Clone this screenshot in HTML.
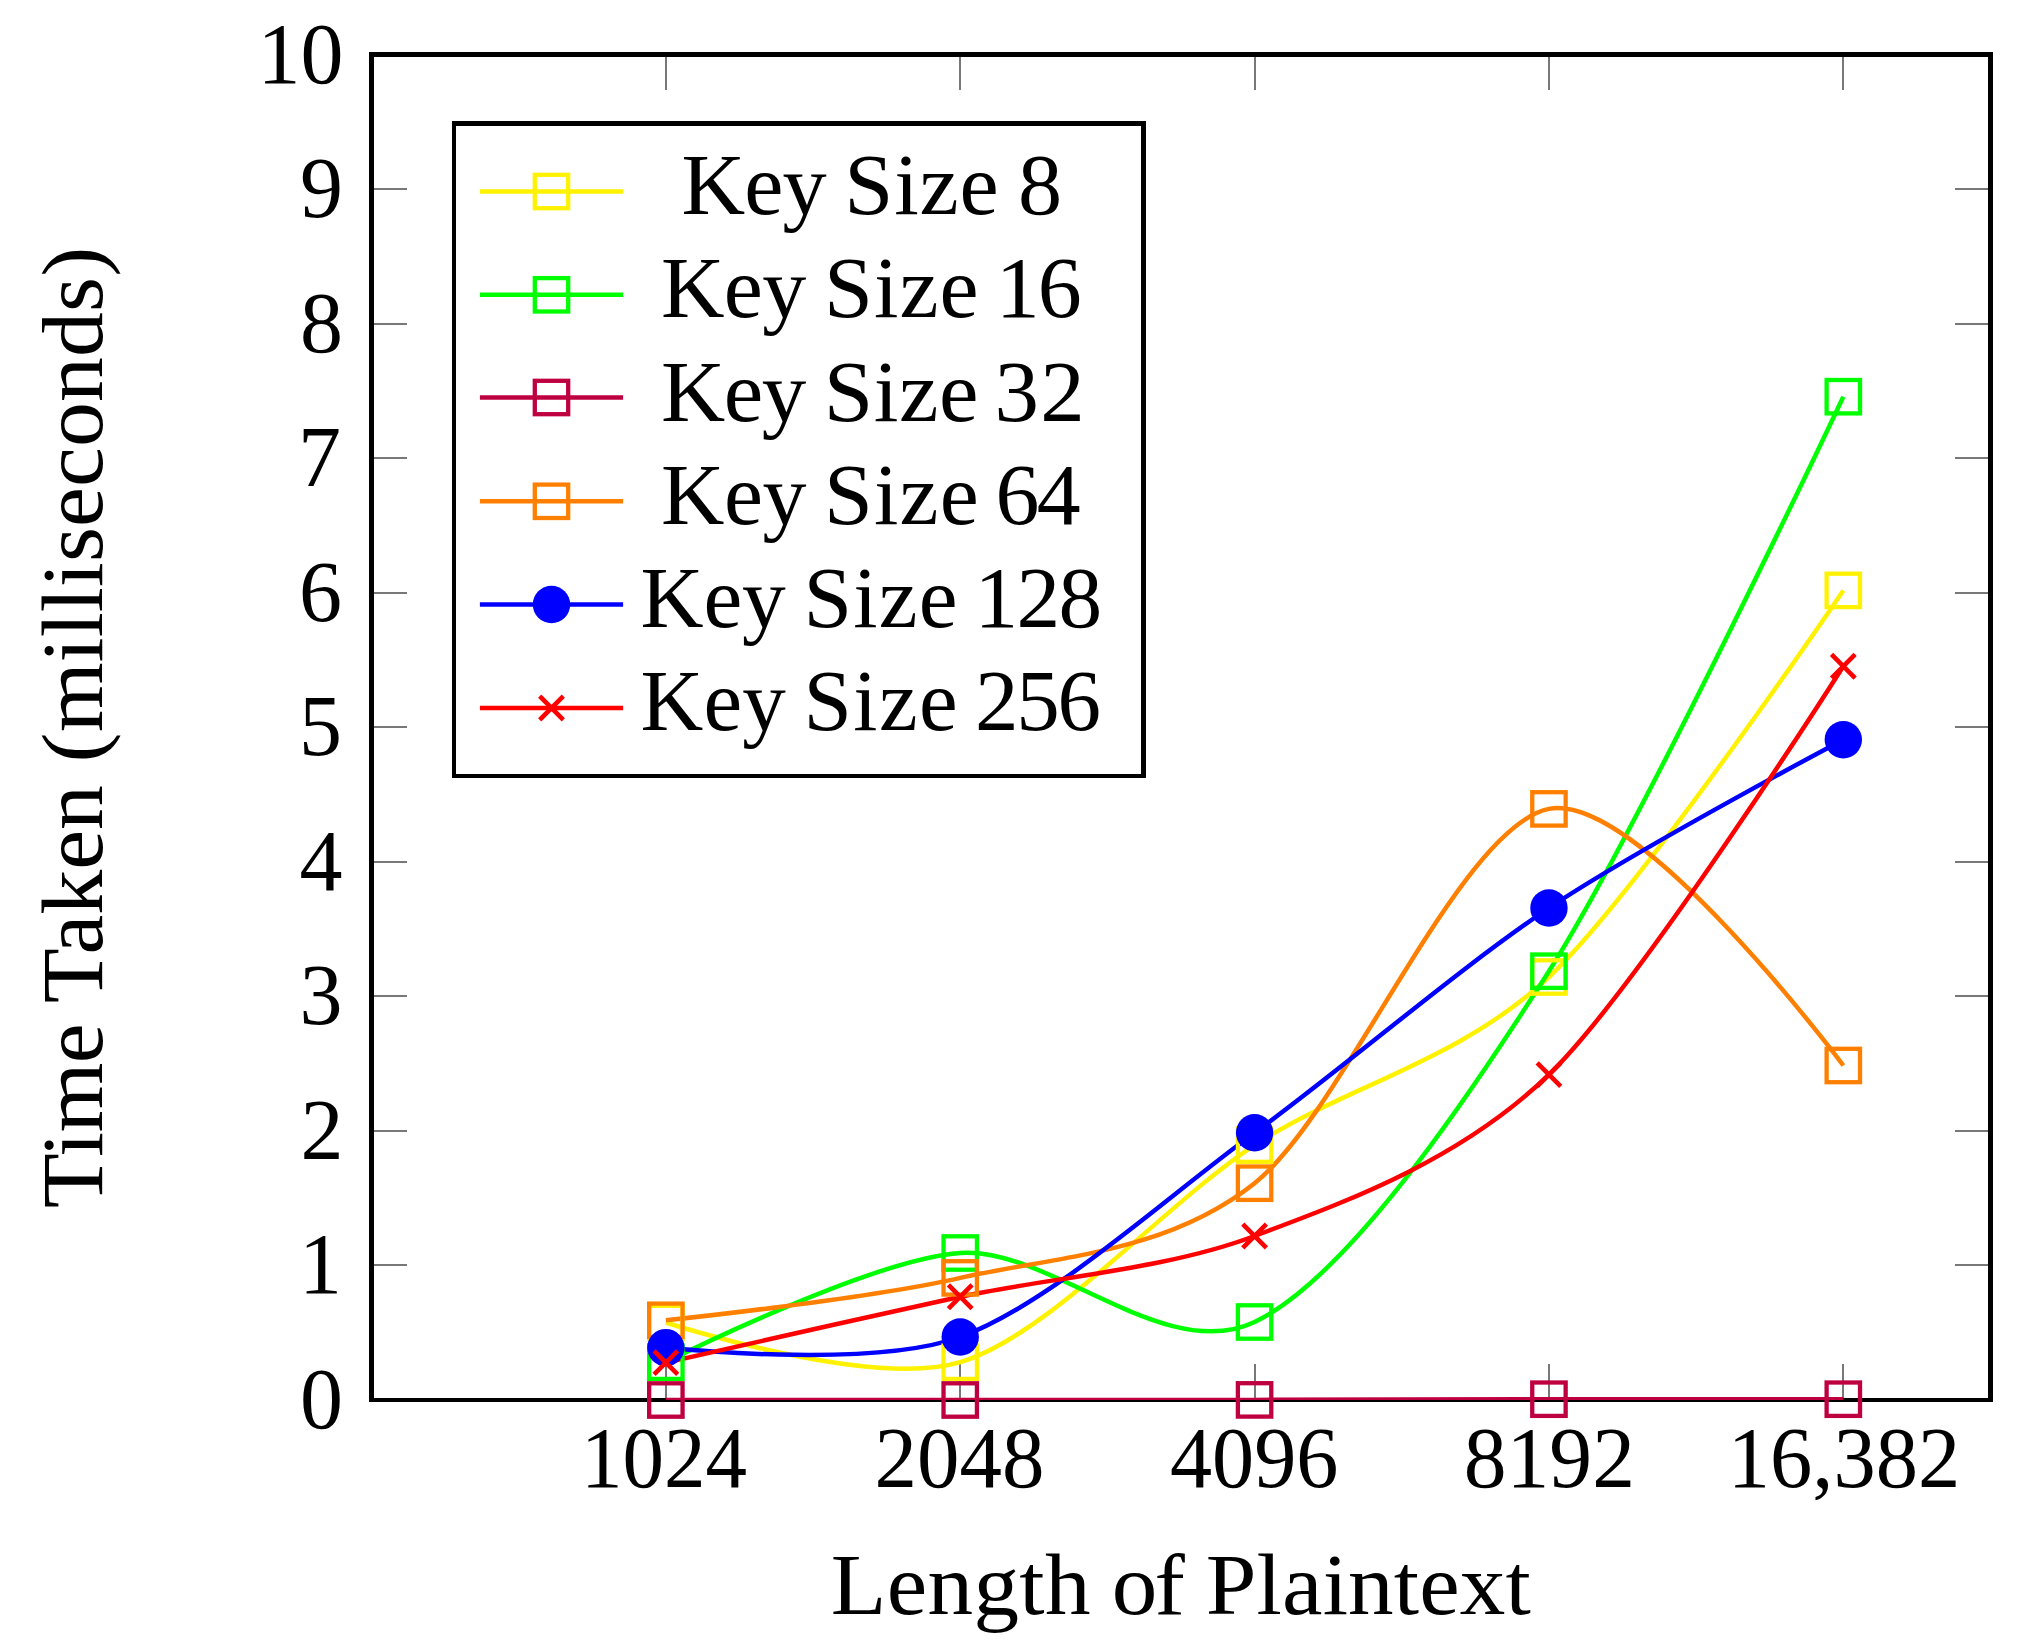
<!DOCTYPE html>
<html lang="en"><head><meta charset="utf-8"><title>Time Taken vs Length of Plaintext</title>
<style>html,body{margin:0;padding:0;background:#fff}body{width:2022px;height:1640px;overflow:hidden}svg{display:block}text{font-family:"Liberation Serif","DejaVu Serif",serif;font-size:86px;fill:#000}</style></head><body>
<svg width="2022" height="1640" viewBox="0 0 2022 1640">
<rect width="2022" height="1640" fill="#fff"/>
<g fill="#787878" shape-rendering="crispEdges">
<rect x="665" y="57" width="2" height="33"/><rect x="665" y="1364" width="2" height="34"/>
<rect x="959" y="57" width="2" height="33"/><rect x="959" y="1364" width="2" height="34"/>
<rect x="1254" y="57" width="2" height="33"/><rect x="1254" y="1364" width="2" height="34"/>
<rect x="1548" y="57" width="2" height="33"/><rect x="1548" y="1364" width="2" height="34"/>
<rect x="1842" y="57" width="2" height="33"/><rect x="1842" y="1364" width="2" height="34"/>
<rect x="374" y="1264" width="33" height="2"/><rect x="1955" y="1264" width="33" height="2"/>
<rect x="374" y="1130" width="33" height="2"/><rect x="1955" y="1130" width="33" height="2"/>
<rect x="374" y="995" width="33" height="2"/><rect x="1955" y="995" width="33" height="2"/>
<rect x="374" y="861" width="33" height="2"/><rect x="1955" y="861" width="33" height="2"/>
<rect x="374" y="726" width="33" height="2"/><rect x="1955" y="726" width="33" height="2"/>
<rect x="374" y="592" width="33" height="2"/><rect x="1955" y="592" width="33" height="2"/>
<rect x="374" y="457" width="33" height="2"/><rect x="1955" y="457" width="33" height="2"/>
<rect x="374" y="323" width="33" height="2"/><rect x="1955" y="323" width="33" height="2"/>
<rect x="374" y="188" width="33" height="2"/><rect x="1955" y="188" width="33" height="2"/>
</g>
<g fill="#000" shape-rendering="crispEdges"><rect x="369" y="52" width="5" height="1350"/><rect x="1988" y="52" width="5" height="1350"/><rect x="369" y="52" width="1624" height="5"/><rect x="369" y="1398" width="1624" height="4"/></g>
<clipPath id="ax"><rect x="371.5" y="54.5" width="1619.0" height="1345.5"/></clipPath>
<g clip-path="url(#ax)" fill="none" stroke-width="4.5">
<path d="M665.86,1322.50 C665.86,1322.50 870.37,1389.28 960.23,1362.20 C1050.08,1335.12 1164.74,1203.89 1254.59,1145.10 C1344.45,1086.31 1459.10,1061.66 1548.95,977.00 C1638.81,892.34 1843.32,590.40 1843.32,590.40" stroke="#fff200"/>
<path d="M665.86,1362.20 C665.86,1362.20 870.37,1259.14 960.23,1253.00 C1050.08,1246.86 1164.74,1365.01 1254.59,1322.00 C1344.45,1278.99 1459.10,1112.42 1548.95,971.20 C1638.81,829.98 1843.32,396.70 1843.32,396.70" stroke="#00ff00"/>
<path d="M665.86,1400.00 C665.86,1400.00 870.37,1400.02 960.23,1400.00 C1050.08,1399.98 1164.74,1400.02 1254.59,1399.90 C1344.45,1399.78 1459.10,1399.31 1548.95,1399.20 C1638.81,1399.09 1843.32,1399.20 1843.32,1399.20" stroke="#bf0040"/>
<path d="M665.86,1320.30 C665.86,1320.30 870.37,1298.82 960.23,1277.90 C1050.08,1256.98 1164.74,1254.78 1254.59,1183.20 C1344.45,1111.62 1459.10,826.86 1548.95,808.90 C1638.81,790.94 1843.32,1065.50 1843.32,1065.50" stroke="#ff8000"/>
<path d="M665.86,1347.60 C665.86,1347.60 870.37,1369.78 960.23,1337.00 C1050.08,1304.22 1164.74,1198.28 1254.59,1132.80 C1344.45,1067.32 1459.10,968.00 1548.95,908.00 C1638.81,848.00 1843.32,739.70 1843.32,739.70" stroke="#0000ff"/>
<path d="M665.86,1362.60 C665.86,1362.60 870.37,1316.12 960.23,1296.80 C1050.08,1277.48 1164.74,1269.91 1254.59,1236.00 C1344.45,1202.09 1459.10,1161.57 1548.95,1074.60 C1638.81,987.63 1843.32,666.20 1843.32,666.20" stroke="#ff0000"/>
</g>
<g>
<rect x="649.16" y="1305.80" width="33.40" height="33.40" fill="none" stroke="#fff200" stroke-width="4.3"/>
<rect x="943.53" y="1345.50" width="33.40" height="33.40" fill="none" stroke="#fff200" stroke-width="4.3"/>
<rect x="1237.89" y="1128.40" width="33.40" height="33.40" fill="none" stroke="#fff200" stroke-width="4.3"/>
<rect x="1532.25" y="960.30" width="33.40" height="33.40" fill="none" stroke="#fff200" stroke-width="4.3"/>
<rect x="1826.62" y="573.70" width="33.40" height="33.40" fill="none" stroke="#fff200" stroke-width="4.3"/>
<rect x="649.16" y="1345.50" width="33.40" height="33.40" fill="none" stroke="#00ff00" stroke-width="4.3"/>
<rect x="943.53" y="1236.30" width="33.40" height="33.40" fill="none" stroke="#00ff00" stroke-width="4.3"/>
<rect x="1237.89" y="1305.30" width="33.40" height="33.40" fill="none" stroke="#00ff00" stroke-width="4.3"/>
<rect x="1532.25" y="954.50" width="33.40" height="33.40" fill="none" stroke="#00ff00" stroke-width="4.3"/>
<rect x="1826.62" y="380.00" width="33.40" height="33.40" fill="none" stroke="#00ff00" stroke-width="4.3"/>
<rect x="649.16" y="1383.30" width="33.40" height="33.40" fill="none" stroke="#bf0040" stroke-width="4.3"/>
<rect x="943.53" y="1383.30" width="33.40" height="33.40" fill="none" stroke="#bf0040" stroke-width="4.3"/>
<rect x="1237.89" y="1383.20" width="33.40" height="33.40" fill="none" stroke="#bf0040" stroke-width="4.3"/>
<rect x="1532.25" y="1382.50" width="33.40" height="33.40" fill="none" stroke="#bf0040" stroke-width="4.3"/>
<rect x="1826.62" y="1382.50" width="33.40" height="33.40" fill="none" stroke="#bf0040" stroke-width="4.3"/>
<rect x="649.16" y="1303.60" width="33.40" height="33.40" fill="none" stroke="#ff8000" stroke-width="4.3"/>
<rect x="943.53" y="1261.20" width="33.40" height="33.40" fill="none" stroke="#ff8000" stroke-width="4.3"/>
<rect x="1237.89" y="1166.50" width="33.40" height="33.40" fill="none" stroke="#ff8000" stroke-width="4.3"/>
<rect x="1532.25" y="792.20" width="33.40" height="33.40" fill="none" stroke="#ff8000" stroke-width="4.3"/>
<rect x="1826.62" y="1048.80" width="33.40" height="33.40" fill="none" stroke="#ff8000" stroke-width="4.3"/>
<circle cx="665.86" cy="1347.60" r="18.70" fill="#0000ff"/>
<circle cx="960.23" cy="1337.00" r="18.70" fill="#0000ff"/>
<circle cx="1254.59" cy="1132.80" r="18.70" fill="#0000ff"/>
<circle cx="1548.95" cy="908.00" r="18.70" fill="#0000ff"/>
<circle cx="1843.32" cy="739.70" r="18.70" fill="#0000ff"/>
<path d="M654.05,1350.79 L677.67,1374.41 M654.05,1374.41 L677.67,1350.79" fill="none" stroke="#ff0000" stroke-width="4.6"/>
<path d="M948.42,1284.99 L972.04,1308.61 M948.42,1308.61 L972.04,1284.99" fill="none" stroke="#ff0000" stroke-width="4.6"/>
<path d="M1242.78,1224.19 L1266.40,1247.81 M1242.78,1247.81 L1266.40,1224.19" fill="none" stroke="#ff0000" stroke-width="4.6"/>
<path d="M1537.15,1062.79 L1560.76,1086.41 M1537.15,1086.41 L1560.76,1062.79" fill="none" stroke="#ff0000" stroke-width="4.6"/>
<path d="M1831.51,654.39 L1855.13,678.01 M1831.51,678.01 L1855.13,654.39" fill="none" stroke="#ff0000" stroke-width="4.6"/>
</g>
<rect x="452" y="121" width="694" height="657" fill="#000" shape-rendering="crispEdges"/><rect x="456" y="126" width="685" height="648" fill="#fff" shape-rendering="crispEdges"/>
<path d="M479.9,191.5 H623.1" stroke="#fff200" stroke-width="4.5" fill="none"/>
<rect x="534.80" y="174.80" width="33.40" height="33.40" fill="none" stroke="#fff200" stroke-width="4.3"/>
<path d="M479.9,294.8 H623.1" stroke="#00ff00" stroke-width="4.5" fill="none"/>
<rect x="534.80" y="278.10" width="33.40" height="33.40" fill="none" stroke="#00ff00" stroke-width="4.3"/>
<path d="M479.9,397.5 H623.1" stroke="#bf0040" stroke-width="4.5" fill="none"/>
<rect x="534.80" y="380.80" width="33.40" height="33.40" fill="none" stroke="#bf0040" stroke-width="4.3"/>
<path d="M479.9,501.3 H623.1" stroke="#ff8000" stroke-width="4.5" fill="none"/>
<rect x="534.80" y="484.60" width="33.40" height="33.40" fill="none" stroke="#ff8000" stroke-width="4.3"/>
<path d="M479.9,604.5 H623.1" stroke="#0000ff" stroke-width="4.5" fill="none"/>
<circle cx="551.50" cy="604.50" r="18.70" fill="#0000ff"/>
<path d="M479.9,708.0 H623.1" stroke="#ff0000" stroke-width="4.5" fill="none"/>
<path d="M539.69,696.19 L563.31,719.81 M539.69,719.81 L563.31,696.19" fill="none" stroke="#ff0000" stroke-width="4.6"/>
<text transform="translate(0,214.00) scale(1.0268,1)"><tspan x="663.65" style="letter-spacing:-0.867px">Key</tspan> <tspan x="822.29" style="letter-spacing:0.738px">Size</tspan> <tspan x="991.34" style="letter-spacing:0.000px">8</tspan></text>
<text transform="translate(0,317.00) scale(1.0230,1)"><tspan x="646.11" style="letter-spacing:-0.605px">Key</tspan> <tspan x="805.36" style="letter-spacing:1.078px">Size</tspan> <tspan x="973.38" style="letter-spacing:-2.022px">16</tspan></text>
<text transform="translate(0,420.50) scale(1.0350,1)"><tspan x="638.57" style="letter-spacing:-1.419px">Key</tspan> <tspan x="795.92" style="letter-spacing:0.526px">Size</tspan> <tspan x="960.82" style="letter-spacing:1.260px">32</tspan></text>
<text transform="translate(0,523.90) scale(1.0211,1)"><tspan x="647.33" style="letter-spacing:-0.474px">Key</tspan> <tspan x="806.89" style="letter-spacing:1.167px">Size</tspan> <tspan x="974.89" style="letter-spacing:-2.552px">64</tspan></text>
<text transform="translate(0,626.90) scale(1.0163,1)"><tspan x="630.20" style="letter-spacing:-0.146px">Key</tspan> <tspan x="790.52" style="letter-spacing:1.225px">Size</tspan> <tspan x="958.87" style="letter-spacing:-1.692px">128</tspan></text>
<text transform="translate(0,730.10) scale(1.0127,1)"><tspan x="632.47" style="letter-spacing:0.106px">Key</tspan> <tspan x="793.38" style="letter-spacing:1.396px">Size</tspan> <tspan x="962.77" style="letter-spacing:-2.200px">256</tspan></text>
<text x="299.90" y="1428.00">0</text>
<text x="298.90" y="1293.45">1</text>
<text x="300.40" y="1158.90">2</text>
<text x="299.40" y="1024.35">3</text>
<text x="299.40" y="889.80">4</text>
<text x="298.90" y="755.25">5</text>
<text x="298.90" y="620.70">6</text>
<text x="297.90" y="486.15">7</text>
<text x="299.90" y="351.60">8</text>
<text x="299.90" y="217.05">9</text>
<text x="257.50" y="82.50">10</text>
<text transform="translate(580.94,1486.90) scale(0.9652,1)">1024</text>
<text transform="translate(874.55,1486.90) scale(0.9879,1)">2048</text>
<text transform="translate(1169.94,1486.90) scale(0.9798,1)">4096</text>
<text transform="translate(1463.71,1486.90) scale(0.9957,1)">8192</text>
<text transform="translate(1727.72,1486.90) scale(0.9831,1)">16,382</text>
<text transform="translate(0,1613.90) scale(1.0600,1)"><tspan x="783.73" style="letter-spacing:0.308px">Length</tspan> <tspan x="1048.76" style="letter-spacing:-2.587px">of</tspan> <tspan x="1137.49" style="letter-spacing:0.131px">Plaintext</tspan></text>
<text transform="translate(102.00,0) rotate(-90) scale(1.0442,1)"><tspan x="-1156.95" style="letter-spacing:-0.538px">Time</tspan> <tspan x="-960.62" style="letter-spacing:-0.034px">Taken</tspan> <tspan x="-730.13" style="letter-spacing:0.134px">(milliseconds)</tspan></text>
</svg></body></html>
